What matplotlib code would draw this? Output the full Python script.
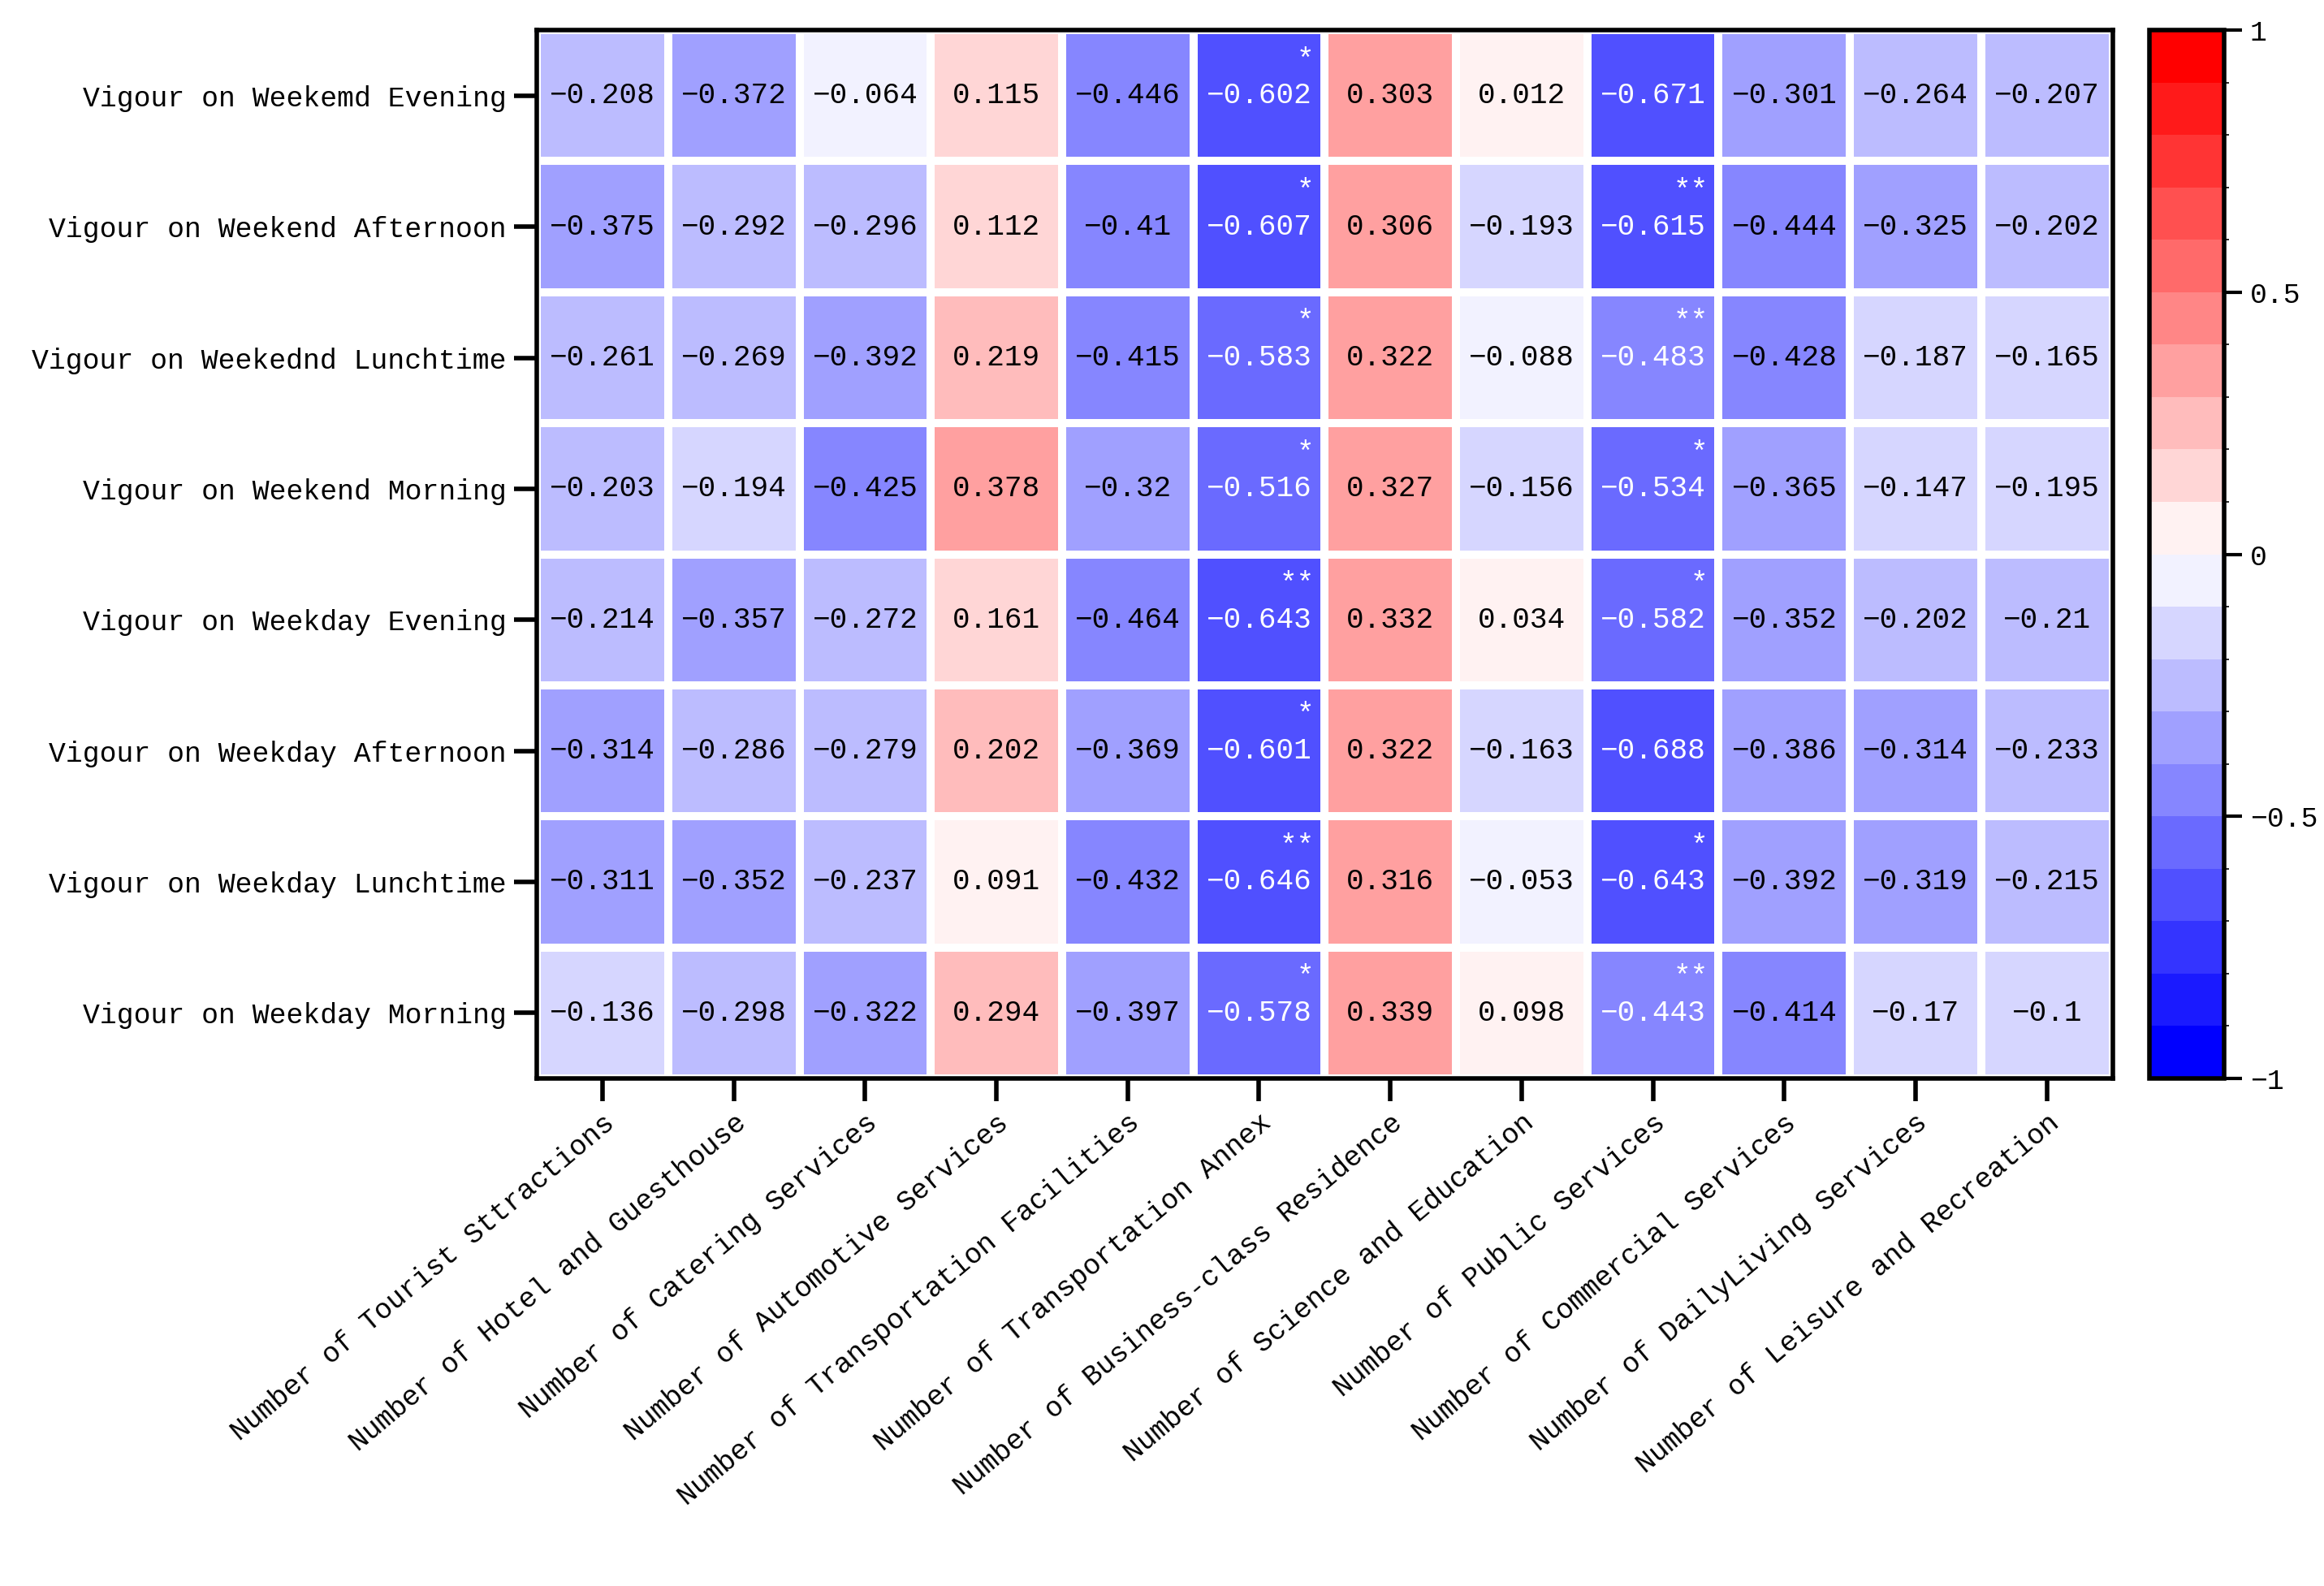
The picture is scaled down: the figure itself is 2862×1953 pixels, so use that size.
import numpy as np
import matplotlib
matplotlib.use('Agg')
from matplotlib import pyplot as plt
from matplotlib.colors import BoundaryNorm, LinearSegmentedColormap

rows = ['Vigour on Weekemd Evening', 'Vigour on Weekend Afternoon', 'Vigour on Weekednd Lunchtime',
        'Vigour on Weekend Morning', 'Vigour on Weekday Evening', 'Vigour on Weekday Afternoon',
        'Vigour on Weekday Lunchtime', 'Vigour on Weekday Morning']
cols = ['Number of Tourist Sttractions', 'Number of Hotel and Guesthouse', 'Number of Catering Services',
        'Number of Automotive Services', 'Number of Transportation Facilities', 'Number of Transportation Annex',
        'Number of Business-class Residence', 'Number of Science and Education', 'Number of Public Services',
        'Number of Commercial Services', 'Number of DailyLiving Services', 'Number of Leisure and Recreation']
values = [
    [-0.208, -0.372, -0.064, 0.115, -0.446, -0.602, 0.303, 0.012, -0.671, -0.301, -0.264, -0.207],
    [-0.375, -0.292, -0.296, 0.112, -0.41, -0.607, 0.306, -0.193, -0.615, -0.444, -0.325, -0.202],
    [-0.261, -0.269, -0.392, 0.219, -0.415, -0.583, 0.322, -0.088, -0.483, -0.428, -0.187, -0.165],
    [-0.203, -0.194, -0.425, 0.378, -0.32, -0.516, 0.327, -0.156, -0.534, -0.365, -0.147, -0.195],
    [-0.214, -0.357, -0.272, 0.161, -0.464, -0.643, 0.332, 0.034, -0.582, -0.352, -0.202, -0.21],
    [-0.314, -0.286, -0.279, 0.202, -0.369, -0.601, 0.322, -0.163, -0.688, -0.386, -0.314, -0.233],
    [-0.311, -0.352, -0.237, 0.091, -0.432, -0.646, 0.316, -0.053, -0.643, -0.392, -0.319, -0.215],
    [-0.136, -0.298, -0.322, 0.294, -0.397, -0.578, 0.339, 0.098, -0.443, -0.414, -0.17, -0.1],
]
# significance stars (row, col) -> label
stars = {(0, 5): '*', (1, 5): '*', (1, 8): '**', (2, 5): '*', (2, 8): '**', (3, 5): '*', (3, 8): '*',
         (4, 5): '**', (4, 8): '*', (5, 5): '*', (6, 5): '**', (6, 8): '*', (7, 5): '*', (7, 8): '**'}

plt.rcParams['font.family'] = ['Liberation Mono', 'DejaVu Sans Mono']
fig = plt.figure(figsize=(14.31, 9.765), dpi=200)
ax = fig.add_axes([0.231, 0.32, 0.678, 0.661])
cax = fig.add_axes([0.925, 0.32, 0.032, 0.661])

base = LinearSegmentedColormap.from_list('bwr2', ['#0000ff', '#ffffff', '#ff0000'])
levels = np.linspace(-1, 1, 21)
cmap = matplotlib.colors.ListedColormap(base(np.linspace(0, 1, 20)))
norm = BoundaryNorm(levels, cmap.N)

data = np.array(values)
im = ax.pcolormesh(data, cmap=cmap, norm=norm, edgecolors='white', linewidth=3)
ax.set_xlim(0, len(cols))
ax.set_ylim(len(rows), 0)
for i in range(len(rows)):
    for j in range(len(cols)):
        v = data[i, j]
        c = 'white' if j in (5, 8) else 'black'
        ax.text(j + 0.5, i + 0.5, f'{v:g}'.replace('-', '\u2212'), ha='center', va='center',
                fontsize=13, color=c)
        if (i, j) in stars:
            ax.text(j + 0.92, i + 0.12, stars[(i, j)], ha='right', va='top', fontsize=13, color='white')

ax.set_xticks(np.arange(len(cols)) + 0.5)
ax.set_xticklabels(cols, rotation=40, ha='right', rotation_mode='anchor', fontsize=12.5)
ax.set_yticks(np.arange(len(rows)) + 0.5)
ax.set_yticklabels(rows, fontsize=12.5)
ax.tick_params(length=10, width=2)
for s in ax.spines.values():
    s.set_linewidth(2)

cb = fig.colorbar(im, cax=cax, ticks=[-1, -0.5, 0, 0.5, 1])
cb.ax.tick_params(labelsize=12.5, length=8, width=1.5)
cb.ax.set_yticklabels(['\u22121', '\u22120.5', '0', '0.5', '1'])
cb.outline.set_linewidth(2)

fig.savefig('out.png')
